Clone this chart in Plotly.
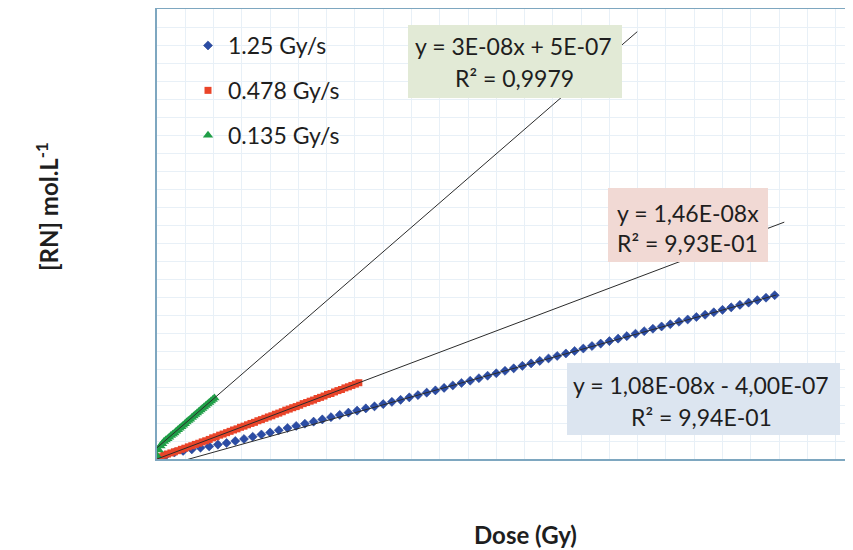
import plotly.graph_objects as go

# ---- data (dose in Gy, concentration in 1e-6 mol/L) ----
blue_name = "1.25 Gy/s"
red_name = "0.478 Gy/s"
green_name = "0.135 Gy/s"

blue_x = [0, 10, 20, 30, 40, 50, 60, 70, 80, 90, 100, 110, 120, 130, 140, 150, 160, 170, 180, 190,
          200, 210, 220, 230, 240, 250, 260, 270, 280, 290, 300, 310, 320, 330, 340, 350, 360, 370,
          380, 390, 400, 410, 420, 430, 440, 450, 460, 470, 480, 490, 500, 510, 520, 530, 540, 550,
          560, 570, 580, 590, 600, 610, 620, 630, 640, 650, 660, 670, 680, 690, 700, 710]
blue_y = [0.00, 0.15, 0.29, 0.36, 0.43, 0.50, 0.56, 0.64, 0.71, 0.80, 0.89, 0.99, 1.09, 1.18, 1.28,
          1.38, 1.47, 1.57, 1.66, 1.76, 1.86, 1.96, 2.06, 2.15, 2.25, 2.34, 2.44, 2.54, 2.63, 2.74,
          2.84, 2.95, 3.05, 3.16, 3.27, 3.38, 3.48, 3.59, 3.70, 3.81, 3.92, 4.03, 4.14, 4.25, 4.36,
          4.47, 4.58, 4.69, 4.80, 4.91, 5.02, 5.13, 5.24, 5.35, 5.46, 5.57, 5.68, 5.79, 5.89, 5.99,
          6.10, 6.20, 6.31, 6.41, 6.52, 6.63, 6.74, 6.85, 6.95, 7.06, 7.17, 7.28]

red_x = [0, 4, 8, 12, 16, 20, 24, 28, 32, 36, 40, 44, 48, 52, 56, 60, 64, 68, 72, 76, 80, 84, 88,
         92, 96, 100, 104, 108, 112, 116, 120, 124, 128, 132, 136, 140, 144, 148, 152, 156, 160,
         164, 168, 172, 176, 180, 184, 188, 192, 196, 200, 204, 208, 212, 216, 220, 224, 228, 232]
red_y = [0.02, 0.10, 0.17, 0.22, 0.27, 0.32, 0.37, 0.43, 0.48, 0.54, 0.59, 0.65, 0.70, 0.76, 0.81,
         0.87, 0.94, 0.99, 1.06, 1.11, 1.17, 1.23, 1.29, 1.34, 1.41, 1.46, 1.52, 1.58, 1.63, 1.70,
         1.75, 1.81, 1.87, 1.92, 1.99, 2.04, 2.10, 2.17, 2.22, 2.28, 2.33, 2.39, 2.46, 2.51, 2.57,
         2.62, 2.69, 2.74, 2.80, 2.87, 2.91, 2.98, 3.04, 3.09, 3.16, 3.21, 3.27, 3.33, 3.39]

green_x = [0, 2, 4, 6, 8, 10, 12, 14, 16, 18, 20, 22, 24, 26, 28, 30, 32, 34, 36, 38, 40, 42, 44,
           46, 48, 50, 52, 54, 56, 58, 60, 62, 64, 66]
green_y = [0.15, 0.40, 0.58, 0.68, 0.78, 0.85, 0.90, 0.97, 1.04, 1.10, 1.16, 1.23, 1.30, 1.37, 1.43,
           1.50, 1.57, 1.64, 1.71, 1.77, 1.84, 1.91, 1.98, 2.04, 2.11, 2.18, 2.25, 2.31, 2.38, 2.45,
           2.51, 2.58, 2.65, 2.71]

# trendline parameters (slope per Gy, intercept, in 1e-6 mol/L) and extents (Gy)
blue_fit = (0.0108, -0.40)
red_fit = (0.0146, 0.0)
green_fit = (0.0335, 0.50)
blue_fit_x = [0, 712]
red_fit_x = [0, 721]
green_fit_x = [0, 552]

green_label = ["y = 3E-08x + 5E-07", "R² = 0,9979"]
red_label = ["y = 1,46E-08x", "R² = 9,93E-01"]
blue_label = ["y = 1,08E-08x - 4,00E-07", "R² = 9,94E-01"]

x_title = "Dose (Gy)"
y_title = "[RN] mol.L<sup>-1</sup>"

# ---- figure ----
FONT = "Lato, 'Open Sans', sans-serif"
TXT = "#1e1e1e"
fig = go.Figure()

fig.add_trace(go.Scatter(x=blue_x, y=blue_y, mode="markers", name=blue_name, legendgroup="b",
                         marker=dict(symbol="diamond", size=7, color="#2b4ca4",
                                     line=dict(width=0.5, color="#1d3a8a"))))
fig.add_trace(go.Scatter(x=red_x, y=red_y, mode="markers", name=red_name, legendgroup="r",
                         marker=dict(symbol="square", size=7, color="#ea4429")))
fig.add_trace(go.Scatter(x=green_x, y=green_y, mode="markers", name=green_name, legendgroup="g",
                         marker=dict(symbol="triangle-up", size=9, color="#1f9e47")))

for fx, (m, b) in ((blue_fit_x, blue_fit), (red_fit_x, red_fit), (green_fit_x, green_fit)):
    fig.add_trace(go.Scatter(x=fx, y=[m * v + b for v in fx], mode="lines", showlegend=False,
                             line=dict(color="#2b2b2b", width=1), hoverinfo="skip"))

# page has an 8 px body margin: figure origin is at page (8, 8)
OFF = 8
W, H = 845, 542
PL, PT, PB, PR = 157, 9, 459, 853          # plot area in page pixels
L, T = PL - OFF, PT - OFF
B = H - (PB - OFF)
R = W - (PR - OFF)
pw, ph = W - L - R, H - T - B


def px(xp):
    return (xp - PL) / pw


def py(yp):
    return (PB - yp) / ph


ann_font = dict(family=FONT, size=23, color=TXT)
shapes = []
annotations = []
boxes = [
    ((408, 25, 622, 98), "#e2ead6", green_label, [(513, 46), (514, 78)], "center"),
    ((608, 188, 768, 262), "#f1d9d4", red_label, [(615, 213), (615, 243)], "left"),
    ((567, 363, 840, 435), "#dce5f0", blue_label, [(701, 385), (701, 417)], "center"),
]
for (x0, y0, x1, y1), col, lines, pos, al in boxes:
    shapes.append(dict(type="rect", xref="paper", yref="paper", x0=px(x0), x1=px(x1),
                       y0=py(y1), y1=py(y0), fillcolor=col, line=dict(width=0), layer="above"))
    for txt, (tx, ty) in zip(lines, pos):
        annotations.append(dict(text=txt, x=px(tx), y=py(ty), xref="paper", yref="paper",
                                xanchor="left" if al == "left" else "center", yanchor="middle",
                                showarrow=False, font=ann_font))

annotations += [
    dict(text="<b>" + x_title + "</b>", x=px(525), y=py(534), xref="paper", yref="paper",
         showarrow=False, yanchor="middle", font=dict(family=FONT, size=24, color=TXT)),
    dict(text="<b>" + y_title + "</b>", x=px(29), y=py(207), xref="paper", yref="paper",
         showarrow=False, textangle=-90, font=dict(family=FONT, size=24, color=TXT)),
]

fig.update_layout(
    width=W, height=H,
    margin=dict(l=L, r=R, t=T, b=B, pad=0),
    paper_bgcolor="white", plot_bgcolor="white",
    font=dict(family=FONT, color=TXT),
    showlegend=True,
    legend=dict(x=px(188), y=py(24), xanchor="left", yanchor="top", bgcolor="rgba(0,0,0,0)",
                font=dict(family=FONT, size=23, color=TXT), tracegroupgap=12,
                itemsizing="trace"),
    shapes=shapes,
    annotations=annotations,
)
fig.update_xaxes(range=[0, 800], showticklabels=False, ticks="", zeroline=False,
                 showgrid=True, gridcolor="#e8f0f7", gridwidth=1, tick0=0, dtick=32.5,
                 showline=True, linecolor="#7ea7c0", linewidth=2, mirror=True)
fig.update_yaxes(range=[0, 20.0], showticklabels=False, ticks="", zeroline=False,
                 showgrid=True, gridcolor="#e8f0f7", gridwidth=1, tick0=0, dtick=0.8,
                 showline=True, linecolor="#7ea7c0", linewidth=2, mirror=False)

fig.write_html("out.html")
